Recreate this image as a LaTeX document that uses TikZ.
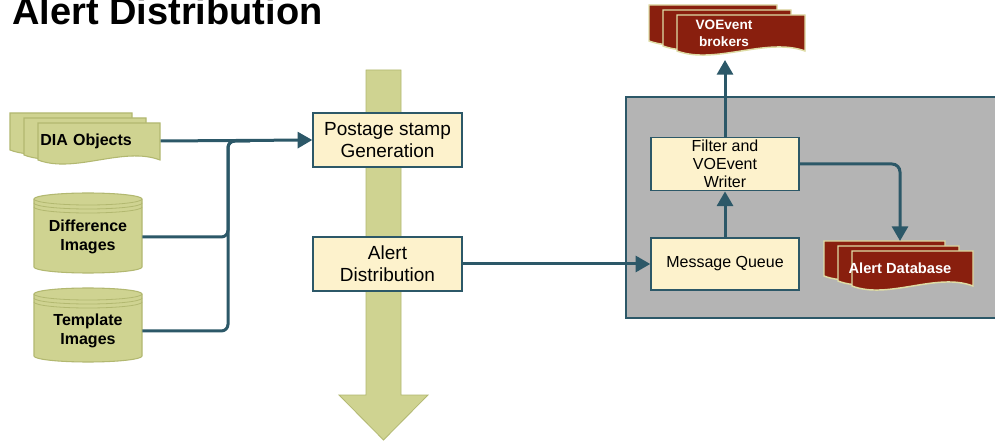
\documentclass[tikz,border=0pt]{standalone}
\usepackage{fontspec}
\setmainfont{Liberation Sans}
\usetikzlibrary{arrows.meta}
\definecolor{oliveF}{RGB}{207,211,145}
\definecolor{oliveD}{RGB}{178,184,112}
\definecolor{tealC}{RGB}{44,88,104}
\definecolor{creamC}{RGB}{253,242,204}
\definecolor{grayC}{RGB}{180,180,180}
\definecolor{redC}{RGB}{137,31,14}
\definecolor{redB}{RGB}{222,220,165}
\newcommand{\docsheet}[5]{%
  \path[#5] ({#1},{#2}) -- ({#1+#3},{#2}) -- ({#1+#3},{#2+#4})
    .. controls ({#1+0.7*#3},{#2+#4-14}) and ({#1+0.3*#3},{#2+#4+14}) .. ({#1},{#2+#4}) -- cycle;}
\newcommand{\docstack}[5]{%
  \docsheet{#1-28}{#2-10}{#3}{#4}{#5}%
  \docsheet{#1-14}{#2-5}{#3}{#4}{#5}%
  \docsheet{#1}{#2}{#3}{#4}{#5}}
\newcommand{\cylshape}[3]{% cx, top, bottom
  \path[cylsty] ({#1-54},{#2+6}) -- ({#1-54},{#3-6})
    arc[start angle=180,end angle=0,x radius=54,y radius=6]
    -- ({#1+54},{#2+6})
    arc[start angle=0,end angle=-180,x radius=54,y radius=6] -- cycle;
  \draw[oliveD,line width=0.6pt] ({#1-54},{#2+6}) arc[start angle=180,end angle=0,x radius=54,y radius=6];
  \draw[oliveD,line width=0.6pt] ({#1-54},{#2+10}) arc[start angle=180,end angle=0,x radius=54,y radius=6];
  \draw[oliveD,line width=0.6pt] ({#1-54},{#2+14}) arc[start angle=180,end angle=0,x radius=54,y radius=6];}
\tikzset{
  oliveSheet/.style={fill=oliveF,draw=oliveD,line width=0.8pt},
  redSheet/.style={fill=redC,draw=redB,line width=1.1pt},
  cylsty/.style={fill=oliveF,draw=oliveD,line width=0.8pt},
  procbox/.style={fill=creamC,draw=tealC,line width=1.1pt,align=center,inner sep=0pt},
  bigbox/.style={procbox,minimum width=111.75pt,minimum height=40.5pt,font=\fontsize{14.25pt}{16.5pt}\selectfont},
  smallbox/.style={procbox,minimum width=111pt,minimum height=40pt,font=\fontsize{12pt}{13.5pt}\selectfont},
  boldtxt/.style={font=\bfseries\fontsize{12pt}{14.25pt}\selectfont,align=center,inner sep=0pt},
  conn/.style={draw=tealC,line width=2.25pt},
  tip/.style={-{Triangle[length=11pt,width=12pt]}},
}
\begin{document}
\begin{tikzpicture}[x=0.75pt,y=-0.75pt]
\useasboundingbox (0,0) rectangle (995,441);
\fill[white] (0,0) rectangle (995,441);
% title
\node[anchor=base west,inner sep=0pt,font=\bfseries\fontsize{28.5pt}{30pt}\selectfont] (title) at (12,25) {Alert Distribution};
% big vertical arrow
\path[fill=oliveF,draw=oliveD,line width=0.6pt] (366,70) -- (401,70) -- (401,395) -- (428,395) -- (383.5,440) -- (339,395) -- (366,395) -- cycle;
% gray panel
\path[fill=grayC,draw=tealC,line width=1.1pt] (626,97) rectangle (1005,318);
% DIA objects
\docstack{38}{123}{122}{37}{oliveSheet}
\node[boldtxt,anchor=west,text width=88.5pt,inner xsep=1.5pt,align=left] (dia) at (38,141) {DIA Objects};
% cylinders
\cylshape{88}{193}{273}
\node[boldtxt,minimum width=81pt] (diff) at (88,237) {Difference\\Images};
\cylshape{88}{288}{362}
\node[boldtxt,minimum width=81pt] (templ) at (88,331) {Template\\Images};
% process boxes
\node[bigbox] (ps) at (387.5,140) {Postage stamp\\Generation};
\node[bigbox] (ad) at (387.5,264) {Alert\\Distribution};
\node[smallbox] (fw) at (725,164) {Filter and\\VOEvent\\Writer};
\node[smallbox,minimum height=39pt] (mq) at (725,264) {Message Queue};
% VOEvent brokers
\docstack{677}{15}{128}{36}{redSheet}
\node[text=white,font=\bfseries\fontsize{10.2pt}{12.75pt}\selectfont,align=center,inner sep=0pt] (vo) at (724,33) {VOEvent\\brokers};
\coordinate (voin) at (725,60);
% Alert database
\docstack{852}{251}{121}{35}{redSheet}
\node[text=white,font=\bfseries\fontsize{11pt}{13pt}\selectfont,inner sep=0pt] (db) at (900,268) {Alert Database};
\coordinate (dbin) at (900,241);
% connectors
\coordinate (j) at (228,141);
\coordinate (j2) at (250,141);
\draw[conn,tip] (dia.east) -- (ps.west);
\draw[conn,rounded corners=5pt] (diff.east) -| (j) -- (j2);
\draw[conn,rounded corners=5pt] (templ.east) -| (j) -- (j2);
\draw[conn,tip] (ad.east) -- (mq.west);
\draw[conn,tip] (mq.north) -- (fw.south);
\draw[conn,tip] (fw.north) -- (voin);
\draw[conn,tip,rounded corners=6pt] (fw.east) -| (dbin);
\end{tikzpicture}
\end{document}
